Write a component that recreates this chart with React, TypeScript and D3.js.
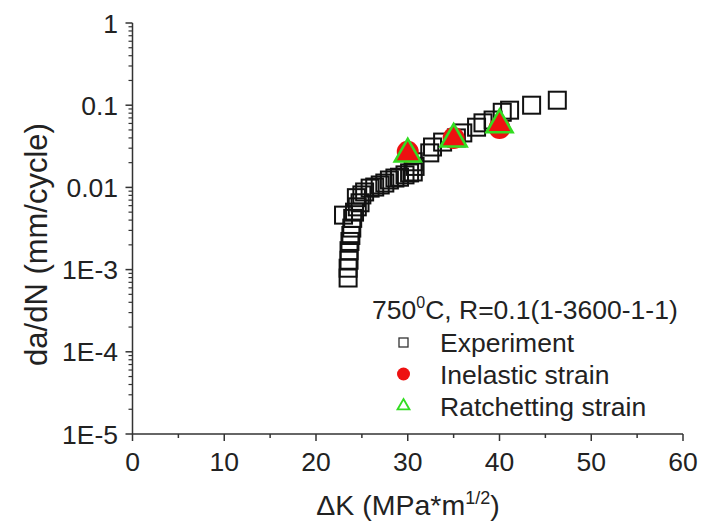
import React from "react";
import * as d3 from "d3";

const expDK = [23.5, 23.5, 23.6, 23.6, 23.7, 23.8, 23.9, 23.0, 24.0, 24.2, 24.5, 24.8, 24.4, 25.0, 25.3, 25.9, 26.4, 27.0, 27.5, 28.0, 28.6, 29.1, 29.7, 30.2, 30.6, 30.8, 30.6, 32.4, 32.7, 33.8, 35.3, 36.0, 37.5, 38.2, 39.3, 40.3, 41.1, 43.5, 46.3];
const expRate = [7.9e-4, 1.04e-3, 1.3e-3, 1.7e-3, 2.2e-3, 2.6e-3, 3.2e-3, 4.6e-3, 4.2e-3, 5.0e-3, 5.8e-3, 6.5e-3, 7.5e-3, 8.1e-3, 8.8e-3, 9.8e-3, 0.0101, 0.0107, 0.0113, 0.0123, 0.013, 0.0133, 0.0142, 0.015, 0.0154, 0.018, 0.0205, 0.0263, 0.031, 0.0356, 0.04, 0.046, 0.054, 0.061, 0.066, 0.082, 0.087, 0.1, 0.115];

const inelDK = [30, 35, 40];
const inelRate = [0.0272, 0.0399, 0.0528];

const ratDK = [30, 35, 40];
const ratRate = [0.027, 0.041, 0.0612];

const xTicks = [0, 10, 20, 30, 40, 50, 60];
const xMinor = [5, 15, 25, 35, 45, 55];
const yTicks = [1e-5, 1e-4, 1e-3, 0.01, 0.1, 1];
const yTickLabels = ["1E-5", "1E-4", "1E-3", "0.01", "0.1", "1"];

const legendTitle = "750";
const legendLabels = ["Experiment", "Inelastic strain", "Ratchetting strain"];

export default function App() {
  const W = 702, H = 529;
  const x = d3.scaleLinear().domain([0, 60]).range([132.5, 683]);
  const y = d3.scaleLog().domain([1e-5, 1]).range([434, 23]);
  const font = "'Liberation Sans', Arial, sans-serif";
  const axisColor = "#333";

  const yMinor: number[] = [];
  for (let d = -5; d < 0; d++) {
    for (let k = 2; k <= 9; k++) yMinor.push(k * Math.pow(10, d));
  }

  const tri = (cx: number, cy: number, s: number) => {
    const h = (s * Math.sqrt(3)) / 2;
    return `M${cx},${cy - (2 * h) / 3}L${cx + s / 2},${cy + h / 3}L${cx - s / 2},${cy + h / 3}Z`;
  };

  const sq = 17;
  const x0 = x(0), yBase = y(1e-5);

  return (
    <svg width={W} height={H} style={{ position: "absolute", left: 0, top: 0, background: "#fff" }}>
      <rect width={W} height={H} fill="#fff" />
      {/* axes */}
      <line x1={x0} x2={x(60)} y1={yBase} y2={yBase} stroke={axisColor} strokeWidth={1.5} />
      <line x1={x0} x2={x0} y1={y(1)} y2={yBase} stroke={axisColor} strokeWidth={1.5} />
      {xTicks.map((t) => (
        <g key={"xt" + t}>
          <line x1={x(t)} x2={x(t)} y1={yBase} y2={yBase + 7} stroke={axisColor} strokeWidth={1.5} />
          <text x={x(t)} y={471} textAnchor="middle" fontFamily={font} fontSize={26.5} fill="#222">{t}</text>
        </g>
      ))}
      {xMinor.map((t) => (
        <line key={"xm" + t} x1={x(t)} x2={x(t)} y1={yBase} y2={yBase + 4} stroke={axisColor} strokeWidth={1.5} />
      ))}
      {yTicks.map((t, i) => (
        <g key={"yt" + t}>
          <line x1={x0 - 7} x2={x0} y1={y(t)} y2={y(t)} stroke={axisColor} strokeWidth={1.5} />
          <text x={118} y={y(t) + 9.5} textAnchor="end" fontFamily={font} fontSize={26.5} fill="#222">{yTickLabels[i]}</text>
        </g>
      ))}
      {yMinor.map((t, i) => (
        <line key={"ym" + i} x1={x0 - 4} x2={x0} y1={y(t)} y2={y(t)} stroke={axisColor} strokeWidth={1.2} />
      ))}
      {/* axis titles */}
      <text x={408} y={515} textAnchor="middle" fontFamily={font} fontSize={28.5} fill="#222">
        ΔK (MPa*m<tspan dy={-11} fontSize={18}>1/2</tspan><tspan dy={11}>)</tspan>
      </text>
      <text transform={`translate(47,${(y(1) + yBase) / 2 + 16}) rotate(-90)`} textAnchor="middle" fontFamily={font} fontSize={31} fill="#222">
        da/dN (mm/cycle)
      </text>
      {/* experiment squares */}
      {expDK.map((d, i) => (
        <rect key={"e" + i} x={x(d) - sq / 2} y={y(expRate[i]) - sq / 2} width={sq} height={sq} fill="none" stroke="#111" strokeWidth={2} />
      ))}
      {/* inelastic */}
      {inelDK.map((d, i) => (
        <circle key={"c" + i} cx={x(d)} cy={y(inelRate[i])} r={11} fill="#ee1111" />
      ))}
      {/* ratchetting */}
      {ratDK.map((d, i) => (
        <path key={"t" + i} d={tri(x(d), y(ratRate[i]) + 2, 26)} fill="#ee1111" stroke="#33dd22" strokeWidth={2.6} />
      ))}
      {/* legend */}
      <text x={372} y={319} fontFamily={font} fontSize={26.5} fill="#222">
        {legendTitle}<tspan dy={-11} fontSize={16}>0</tspan><tspan dy={11}>C, R=0.1(1-3600-1-1)</tspan>
      </text>
      <rect x={399} y={338} width={9} height={9} fill="none" stroke="#333" strokeWidth={1.3} />
      <circle cx={403.5} cy={374} r={6.5} fill="#ee1111" />
      <path d={tri(403.5, 406, 12)} fill="none" stroke="#33dd22" strokeWidth={1.8} />
      {legendLabels.map((l, i) => (
        <text key={l} x={440} y={352 + i * 32} fontFamily={font} fontSize={26.5} fill="#222">{l}</text>
      ))}
    </svg>
  );
}
